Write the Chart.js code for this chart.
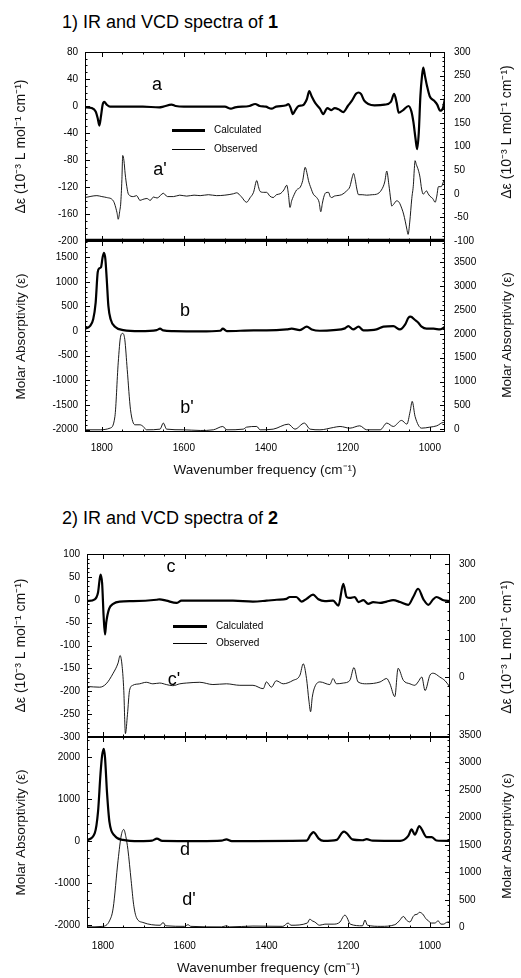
<!DOCTYPE html>
<html>
<head>
<meta charset="utf-8">
<title>IR and VCD spectra</title>
<script src="https://cdn.jsdelivr.net/npm/chart.js@4.4.1/dist/chart.umd.min.js"></script>
<style>
  html, body { margin:0; padding:0; background:#fff; }
  #wrap { position:relative; width:521px; height:978px; overflow:hidden; background:#fff;
          font-family:"Liberation Sans", Arial, Helvetica, sans-serif; color:#000; }
  .cv { position:absolute; left:0; }
  .txt { position:absolute; white-space:nowrap; line-height:1; }
  .title { font-size:18px; }
  .lab { font-size:18px; transform:translate(-50%,-50%); }
  .leg { font-size:10px; transform:translateY(-50%); }
  .bar { position:absolute; background:#000; }
  .rt { position:absolute; font-size:13.5px; white-space:nowrap; line-height:1;
        transform:translate(-50%,-50%) rotate(-90deg); color:#111; }
  .rt.v { font-size:14px; }
</style>
</head>
<body>
<div id="wrap">
  <canvas id="cA" class="cv" width="521" height="210" style="top:40px"></canvas>
  <canvas id="cB" class="cv" width="521" height="248" style="top:232px"></canvas>
  <canvas id="cC" class="cv" width="521" height="204" style="top:542px"></canvas>
  <canvas id="cD" class="cv" width="521" height="250" style="top:728px"></canvas>

  <div class="txt title" style="left:62px;top:13px">1) IR and VCD spectra of <b>1</b></div>
  <div class="txt title" style="left:62px;top:509px">2) IR and VCD spectra of <b>2</b></div>

  <div class="txt lab" style="left:157px;top:84px">a</div>
  <div class="txt lab" style="left:160px;top:169px">a'</div>
  <div class="txt lab" style="left:185px;top:310px">b</div>
  <div class="txt lab" style="left:187px;top:407px">b'</div>
  <div class="txt lab" style="left:171px;top:566px">c</div>
  <div class="txt lab" style="left:174px;top:679px">c'</div>
  <div class="txt lab" style="left:185px;top:849px">d</div>
  <div class="txt lab" style="left:189px;top:899px">d'</div>

  <div class="bar" style="left:172px;top:129px;width:33px;height:3px"></div>
  <div class="txt leg" style="left:214px;top:130px">Calculated</div>
  <div class="bar" style="left:172px;top:149px;width:33px;height:1px"></div>
  <div class="txt leg" style="left:214px;top:149px">Observed</div>

  <div class="bar" style="left:173px;top:625px;width:34px;height:3px"></div>
  <div class="txt leg" style="left:216px;top:626px">Calculated</div>
  <div class="bar" style="left:173px;top:643px;width:34px;height:1px"></div>
  <div class="txt leg" style="left:216px;top:643px">Observed</div>

  <div class="rt v" style="left:506px;top:132px">Δε (10⁻³ L mol⁻¹ cm⁻¹)</div>
  <div class="rt" style="left:507px;top:335px">Molar Absorptivity (ε)</div>
  <div class="rt v" style="left:506px;top:647px">Δε (10⁻³ L mol⁻¹ cm⁻¹)</div>
  <div class="rt" style="left:507px;top:836px">Molar Absorptivity (ε)</div>
</div>

<script>
// ---------- tick labels ----------
const xTicks = [1800, 1600, 1400, 1200, 1000];
const aLeftTicks = [80, 40, 0, -40, -80, -120, -160, -200];
const aRightTicks = [300, 250, 200, 150, 100, 50, 0, -50, -100];
const bLeftTicks = [1500, 1000, 500, 0, -500, -1000, -1500, -2000];
const bRightTicks = [3500, 3000, 2500, 2000, 1500, 1000, 500, 0];
const cLeftTicks = [100, 50, 0, -50, -100, -150, -200, -250, -300];
const cRightTicks = [300, 200, 100, 0];
const dLeftTicks = [2000, 1000, 0, -1000, -2000];
const dRightTicks = [3500, 3000, 2500, 2000, 1500, 1000, 500, 0];

// ---------- 1) VCD of 1 ----------
const aCalcX = [1841,1825,1815,1810,1806,1802,1798,1794,1788,1780,1700,1660,1650,1630,1620,1600,1500,1485,1475,1440,1426,1415,1400,1386,1375,1350,1345,1340,1334,1328,1320,1310,1300,1294,1288,1280,1268,1260,1250,1240,1232,1222,1211,1200,1190,1180,1174,1168,1160,1150,1135,1110,1095,1087,1081,1076,1065,1052,1045,1040,1035,1031,1027,1023,1019,1016,1012,1007,1000,990,982,975,968,963];
const aCalcY = [-2,-3,-8,-18,-29,-15,2,6,2,-1,-1,-2,-1,2,0,-1,-1,-4,-2,0,3,0,-1,-4,-1,1,3,-2,-12,-6,0,1,10,22,14,5,-4,-12,-3,-6,-3,-5,-9,0,8,18,20,18,8,3,1,2,6,18,5,-10,-6,0,-8,-24,-48,-64,-40,15,45,57,45,30,14,8,2,-7,-3,12];
const aObsX = [1841,1812,1800,1788,1772,1763,1760,1756,1754,1751,1749,1746,1743,1739,1735,1723,1715,1707,1700,1690,1682,1674,1665,1650,1640,1625,1610,1593,1575,1560,1540,1520,1500,1479,1471,1460,1447,1438,1430,1422,1418,1414,1406,1398,1390,1382,1374,1365,1356,1349,1345,1341,1337,1333,1325,1316,1310,1304,1300,1296,1290,1284,1276,1270,1266,1262,1259,1254,1247,1243,1239,1233,1227,1215,1203,1195,1189,1186,1182,1178,1174,1165,1154,1140,1130,1118,1110,1105,1100,1095,1093,1088,1081,1075,1068,1064,1060,1056,1053,1049,1044,1040,1038,1036,1033,1028,1024,1020,1016,1012,1008,1004,1000,993,987,983,979,975,971,967,963];
const aObsY = [-8,-4,-6,-8,-15,-40,-54,-35,-22,30,81,70,42,15,-1,-6,-4,-14,-12,-10,-14,-7,-9,1,-6,-6,-3,-5,-3,-4,-2,-4,-3,0,2,-6,-18,-8,3,28,15,5,3,3,-5,-8,-2,0,8,18,0,-29,-15,-6,8,14,28,56,45,28,12,-1,-8,-18,-38,-20,-8,2,3,-6,-8,-5,-4,-2,6,15,36,43,30,10,-2,-2,-3,-2,-1,8,25,48,20,-15,-26,-22,-15,-18,-32,-43,-58,-75,-86,-60,-10,20,50,70,62,50,35,10,-1,3,6,0,-5,-10,-18,-5,15,15,16,25,30];

// ---------- 1) IR of 1 ----------
const bCalcX = [1841,1829,1821,1815,1810,1806,1802,1798,1794.7,1791.4,1788,1784,1778.5,1768,1747.5,1707,1666,1658,1650,1625,1560,1511,1505,1495,1430,1398,1349,1337,1317,1300,1288,1268,1235,1207,1199,1187,1174,1162,1130,1113,1089,1073,1060,1052,1047,1036,1028,1020,1008,991,975,963];
const bCalcY = [48,100,240,580,1195,1276,1297,1500,1590,1468,1058,512,240,90,20,0,20,48,14,0,-7,7,48,0,14,14,34,48,20,89,34,7,20,55,102,34,89,14,34,89,100,34,137,273,293,225,170,89,48,48,34,89];
const bObsX = [1841,1804,1780,1768,1760,1754,1749,1744,1738,1730,1719,1707,1699,1691,1658,1650,1642,1601,1560,1528,1505,1495,1455,1447,1422,1414,1382,1345,1329,1306,1292,1268,1235,1219,1195,1171,1154,1121,1105,1089,1069,1056,1048,1043,1036,1020,1000,983,967,963];
const bObsY = [-14,-14,21,267,1392,1954,2010,1884,1251,408,91,91,56,-14,0,127,0,-14,-28,-14,56,-14,0,42,56,-14,0,105,0,127,0,-14,35,56,21,70,-14,-14,127,56,183,105,373,583,267,21,42,70,140,127];

// ---------- 2) VCD of 2 ----------
const cCalcX = [1839,1820,1812,1806,1802,1798.4,1795,1792,1785,1775,1759,1726,1669,1661,1645,1620,1608,1563,1482,1433,1400,1375,1351,1343,1327,1314,1302,1286,1273,1257,1237,1224,1212,1204,1196,1184,1175,1163,1151,1139,1122,1106,1090,1073,1053,1041,1029,1016,1004,992,984,967,951];
const cCalcY = [-3,1,16,55,36,-35,-76,-50,-20,-9,-4,-3,0,1,-2,-7,-2,-2,-2,-4,-2,0,2,6,6,-4,2,11,1,-3,-2,-13,35,6,4,6,-5,-1,-9,-5,-7,-4,-1,-5,-11,6,24,1,-11,1,6,-1,-3];
const cObsX = [1839,1808,1792,1775,1763,1758,1753,1749,1745,1740,1735,1727,1710,1694,1678,1661,1645,1629,1612,1596,1563,1531,1498,1465,1433,1408,1400,1388,1376,1359,1335,1318,1310,1302,1296,1292,1288,1282,1269,1245,1237,1229,1212,1196,1186,1176,1155,1122,1106,1098,1086,1078,1065,1049,1037,1029,1020,1012,1000,992,976,963,951];
const cObsY = [-25,-27,-18,10,37,57,28,-36,-150,-99,-36,-22,-18,-14,-18,-16,-20,-23,-18,-16,-14,-20,-18,-22,-22,-31,-13,-27,-10,-18,-9,5,35,-4,-64,-92,-54,-27,-13,-20,-4,-18,-16,-9,25,-13,-18,-13,-4,-18,-52,23,-9,-18,-22,-13,0,-36,5,10,0,-10,-27];

// ---------- 2) IR of 2 ----------
const dCalcX = [1839,1820,1812,1806,1802,1798,1795,1790,1784,1771,1751,1710,1680,1668,1655,1563,1510,1498,1485,1302,1292,1285,1280,1272,1260,1228,1215,1210,1203,1190,1165,1155,1140,1073,1053,1045,1037,1026,1020,1008,996,984,951];
const dCalcY = [20,190,700,1600,2040,2200,2000,1150,450,125,30,0,10,60,5,0,10,40,0,10,150,215,170,60,5,30,200,225,180,40,20,45,10,5,125,280,155,360,280,95,95,15,5];
const dObsX = [1839,1800,1784,1775,1763,1755,1749,1744,1739,1731,1725,1718,1702,1660,1653,1646,1600,1592,1585,1510,1498,1490,1433,1360,1347,1340,1300,1294,1288,1282,1270,1257,1237,1220,1212,1208,1203,1195,1165,1159,1153,1120,1086,1075,1065,1057,1049,1041,1037,1031,1026,1018,1010,1004,996,988,980,973,967,960,955,951];
const dObsY = [10,20,120,350,1220,1680,1780,1650,1420,850,420,180,90,40,90,30,20,50,20,10,30,10,25,20,80,40,80,150,120,100,40,60,60,100,200,225,180,60,30,134,40,20,50,120,200,130,100,200,230,240,275,245,160,120,80,80,120,60,60,90,100,90];

// ---------- drawing helpers ----------
const FAM = '"Liberation Sans", Arial, Helvetica, sans-serif';
const zip = (xs, ys) => xs.map((x, i) => ({ x: x, y: ys[i] }));

const framePlugin = {
  id: 'frame',
  afterDraw(chart, args, o) {
    const { ctx, chartArea: a, scales } = chart;
    const L = Math.round(a.left), R = Math.round(a.right), T = Math.round(a.top), B = Math.round(a.bottom);
    ctx.save();
    ctx.strokeStyle = '#000';
    ctx.lineWidth = 1;
    ctx.strokeRect(L + 0.5, T + 0.5, R - L - 1, B - T - 1);
    const seg = (x1, y1, x2, y2) => { ctx.beginPath(); ctx.moveTo(x1, y1); ctx.lineTo(x2, y2); ctx.stroke(); };
    const each = (scale, major, minor, fn) => {
      const lo = Math.ceil(scale.min / minor - 1e-9), hi = Math.floor(scale.max / minor + 1e-9);
      for (let k = lo; k <= hi; k++) {
        const v = k * minor;
        const isMajor = Math.abs(v / major - Math.round(v / major)) < 1e-6;
        fn(Math.round(scale.getPixelForValue(v)) + 0.5, isMajor ? o.majLen : o.minLen);
      }
    };
    each(scales.x, o.xMajor, o.xMinor, (px, len) => { seg(px, T, px, T + len); seg(px, B, px, B - len); });
    each(scales.yL, o.lMajor, o.lMinor, (py, len) => seg(L, py, L + len, py));
    each(scales.yR, o.rMajor, o.rMinor, (py, len) => seg(R, py, R - len, py));
    if (o.thickBottom) { ctx.lineWidth = 2.6; seg(L, B - 1, R, B - 1); }
    ctx.restore();
  }
};

function makePanel(id, p) {
  const tickFont = { family: FAM, size: 10 };
  const titleFont = { family: FAM, size: 13.5 };
  return new Chart(document.getElementById(id), {
    type: 'scatter',
    data: {
      datasets: [
        { label: 'Calculated', data: zip(p.calcX, p.calcY), yAxisID: 'yL', showLine: true,
          borderColor: '#000', borderWidth: 2.2, pointRadius: 0, cubicInterpolationMode: 'monotone', fill: false },
        { label: 'Observed', data: zip(p.obsX, p.obsY), yAxisID: 'yR', showLine: true,
          borderColor: '#000', borderWidth: 0.9, pointRadius: 0, cubicInterpolationMode: 'monotone', fill: false }
      ]
    },
    options: {
      responsive: false, animation: false, devicePixelRatio: 1, events: [],
      layout: { padding: p.padding, autoPadding: false },
      plugins: {
        legend: { display: false }, tooltip: { enabled: false },
        frame: Object.assign({ majLen: 5, minLen: 2.5, xMajor: 200, xMinor: 50 }, p.frame)
      },
      scales: {
        x: {
          type: 'linear', reverse: true, min: p.xMin, max: p.xMax, display: p.showX,
          grid: { display: false, drawTicks: false }, border: { display: false },
          afterBuildTicks: s => { s.ticks = xTicks.map(v => ({ value: v })); },
          afterFit: s => { s.height = p.xH || 0; s.paddingLeft = 0; s.paddingRight = 0; },
          ticks: { autoSkip: false, maxRotation: 0, padding: p.xPad || 9, color: '#000', font: tickFont,
                   callback: v => String(v) },
          title: { display: !!p.showX, text: 'Wavenumber frequency (cm⁻¹)', color: '#111', font: titleFont,
                   padding: { top: 0, bottom: 2 } }
        },
        yL: {
          type: 'linear', position: 'left', min: p.lMin, max: p.lMax,
          grid: { display: false, drawTicks: false }, border: { display: false },
          afterBuildTicks: s => { s.ticks = p.lTicks.map(v => ({ value: v })); },
          afterFit: s => { s.width = p.leftW; s.paddingTop = 0; s.paddingBottom = 0; },
          ticks: { autoSkip: false, padding: 7, color: '#000', font: tickFont, callback: v => String(v) },
          title: { display: true, text: p.lTitle, color: '#111', font: { family: FAM, size: p.lTitleSize },
                   padding: { top: 13, bottom: 0 } }
        },
        yR: {
          type: 'linear', position: 'right', min: p.rMin, max: p.rMax,
          grid: { display: false, drawTicks: false }, border: { display: false },
          afterBuildTicks: s => { s.ticks = p.rTicks.map(v => ({ value: v })); },
          afterFit: s => { s.width = 521 - p.rightX; s.paddingTop = 0; s.paddingBottom = 0; },
          ticks: { autoSkip: false, padding: 9, color: '#000', font: tickFont, callback: v => String(v) },
          title: { display: false }
        }
      }
    },
    plugins: [framePlugin]
  });
}

const vcdTitle = 'Δε (10⁻³ L mol⁻¹ cm⁻¹)';
const irTitle = 'Molar Absorptivity (ε)';

makePanel('cA', {
  calcX: aCalcX, calcY: aCalcY, obsX: aObsX, obsY: aObsY,
  xMin: 963, xMax: 1841, showX: false, padding: { top: 12, bottom: 9, left: 0, right: 0 },
  leftW: 85, rightX: 445,
  lMin: -200, lMax: 80, lTicks: aLeftTicks, lTitle: vcdTitle, lTitleSize: 14,
  rMin: -100, rMax: 300, rTicks: aRightTicks,
  frame: { lMajor: 40, lMinor: 10, rMajor: 50, rMinor: 10, thickBottom: true }
});
makePanel('cB', {
  calcX: bCalcX, calcY: bCalcY, obsX: bObsX, obsY: bObsY,
  xMin: 963, xMax: 1841, showX: true, xH: 48, xPad: 10, padding: { top: 9, bottom: 0, left: 0, right: 0 },
  leftW: 85, rightX: 445,
  lMin: -2050, lMax: 1830, lTicks: bLeftTicks, lTitle: irTitle, lTitleSize: 13.5,
  rMin: -60, rMax: 3950, rTicks: bRightTicks,
  frame: { lMajor: 500, lMinor: 100, rMajor: 500, rMinor: 100 }
});
makePanel('cC', {
  calcX: cCalcX, calcY: cCalcY, obsX: cObsX, obsY: cObsY,
  xMin: 951, xMax: 1839, showX: false, padding: { top: 12, bottom: 9, left: 0, right: 0 },
  leftW: 87, rightX: 450,
  lMin: -300, lMax: 100, lTicks: cLeftTicks, lTitle: vcdTitle, lTitleSize: 14,
  rMin: -159, rMax: 326, rTicks: cRightTicks,
  frame: { lMajor: 50, lMinor: 10, rMajor: 100, rMinor: 25 }
});
makePanel('cD', {
  calcX: dCalcX, calcY: dCalcY, obsX: dObsX, obsY: dObsY,
  xMin: 951, xMax: 1839, showX: true, xH: 50, xPad: 12, padding: { top: 9, bottom: 0, left: 0, right: 0 },
  leftW: 87, rightX: 450,
  lMin: -2070, lMax: 2480, lTicks: dLeftTicks, lTitle: irTitle, lTitleSize: 13.5,
  rMin: -10, rMax: 3460, rTicks: dRightTicks,
  frame: { lMajor: 1000, lMinor: 200, rMajor: 500, rMinor: 100 }
});
</script>
</body>
</html>
